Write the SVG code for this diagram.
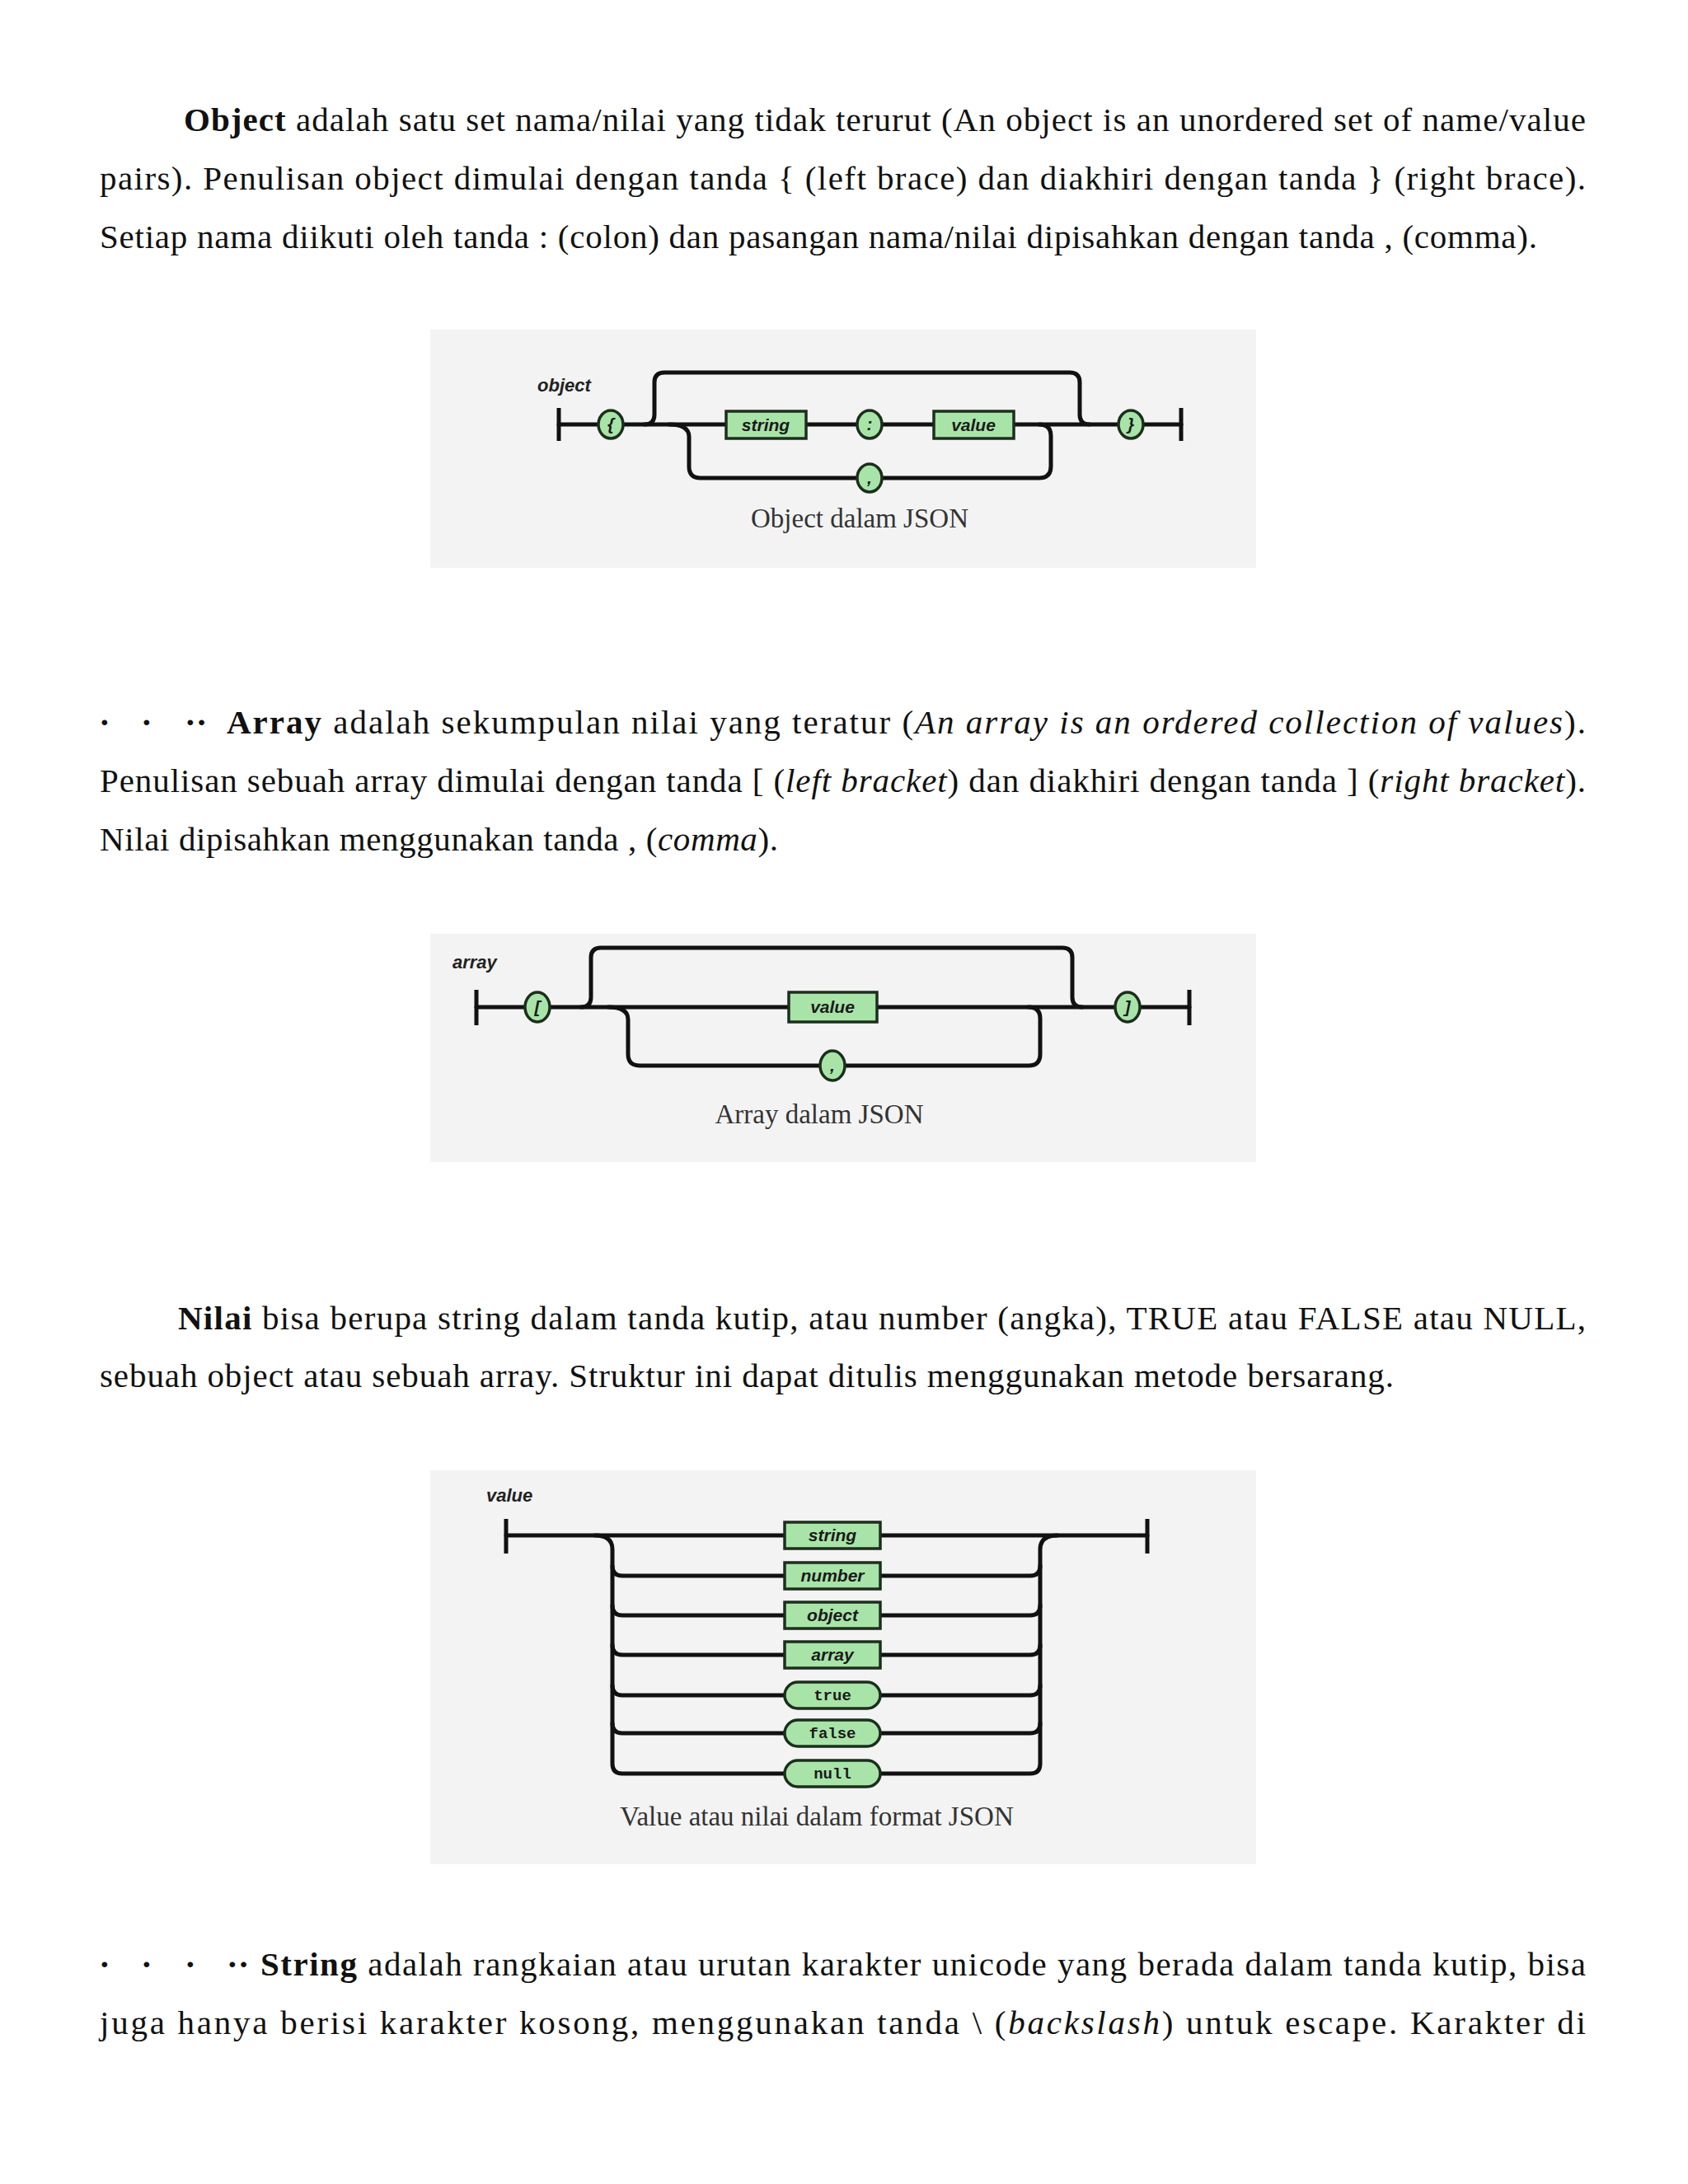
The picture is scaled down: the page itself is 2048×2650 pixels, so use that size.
<svg xmlns="http://www.w3.org/2000/svg" width="2048" height="2650" viewBox="0 0 2048 2650">
<style>
.p{font-family:"Liberation Serif",serif;font-size:41px;fill:#111}
.b{font-weight:bold}
.i{font-style:italic}
.d{font-weight:bold}
.panel{fill:#f3f3f3}
.ln{fill:none;stroke:#111;stroke-width:5;stroke-linecap:round;stroke-linejoin:round}
.bar{stroke:#111;stroke-width:5}
.nd{fill:#a8e4a8;stroke:#1c2e1c;stroke-width:3.5}
.lb{font-family:"Liberation Sans",sans-serif;font-weight:bold;font-style:italic;font-size:21px;fill:#1a1a1a;text-anchor:middle}
.ml{font-family:"Liberation Mono",monospace;font-weight:bold;font-size:19px;fill:#1a1a1a;text-anchor:middle}
.tt{font-family:"Liberation Sans",sans-serif;font-weight:bold;font-style:italic;font-size:22px;fill:#222}
.cap{font-family:"Liberation Serif",serif;font-size:33px;fill:#333;text-anchor:middle}
</style>
<rect width="2048" height="2650" fill="#fff"/>
<g id="text">
<text class="p" x="223" y="159" textLength="1701" lengthAdjust="spacing"><tspan class="b">Object</tspan> adalah satu set nama/nilai yang tidak terurut (An object is an unordered set of name/value</text>
<text class="p" x="121" y="230" textLength="1803" lengthAdjust="spacing">pairs). Penulisan object dimulai dengan tanda { (left brace) dan diakhiri dengan tanda } (right brace).</text>
<text class="p" x="121" y="301" textLength="1744" lengthAdjust="spacing">Setiap nama diikuti oleh tanda : (colon) dan pasangan nama/nilai dipisahkan dengan tanda , (comma).</text>
<text class="p d" x="120" y="890">·</text><text class="p d" x="171" y="890">·</text><text class="p d" x="224" y="890">··</text>
<text class="p" x="275" y="890" textLength="1649" lengthAdjust="spacing"><tspan class="b">Array</tspan> adalah sekumpulan nilai yang teratur (<tspan class="i">An array is an ordered collection of values</tspan>).</text>
<text class="p" x="121" y="961" textLength="1803" lengthAdjust="spacing">Penulisan sebuah array dimulai dengan tanda [ (<tspan class="i">left bracket</tspan>) dan diakhiri dengan tanda ] (<tspan class="i">right bracket</tspan>).</text>
<text class="p" x="121" y="1032" textLength="823" lengthAdjust="spacing">Nilai dipisahkan menggunakan tanda , (<tspan class="i">comma</tspan>).</text>
<text class="p" x="216" y="1613" textLength="1708" lengthAdjust="spacing"><tspan class="b">Nilai</tspan> bisa berupa string dalam tanda kutip, atau number (angka), TRUE atau FALSE atau NULL,</text>
<text class="p" x="121" y="1683" textLength="1570" lengthAdjust="spacing">sebuah object atau sebuah array. Struktur ini dapat ditulis menggunakan metode bersarang.</text>
<text class="p d" x="120" y="2397">·</text><text class="p d" x="171" y="2397">·</text><text class="p d" x="224" y="2397">·</text><text class="p d" x="275" y="2397">··</text>
<text class="p" x="316" y="2397" textLength="1608" lengthAdjust="spacing"><tspan class="b">String</tspan> adalah rangkaian atau urutan karakter unicode yang berada dalam tanda kutip, bisa</text>
<text class="p" x="121" y="2468" textLength="1803" lengthAdjust="spacing">juga hanya berisi karakter kosong, menggunakan tanda \ (<tspan class="i">backslash</tspan>) untuk escape. Karakter di</text>
</g>
<g id="object-diagram">
<rect class="panel" x="522" y="400" width="1002" height="289"/>
<text class="tt" x="652" y="475">object</text>
<g id="object-connectors">
<path class="ln" d="M678 515 H1433"/>
<path class="bar" d="M678 495 V535 M1433 495 V535"/>
<path class="ln" d="M782 515 Q794 515 794 503 V464 Q794 452 806 452 H1298 Q1310 452 1310 464 V503 Q1310 515 1322 515"/>
<path class="ln" d="M812 515 Q836 515 836 530 V566 Q836 580 850 580 H1261 Q1275 580 1275 566 V529 Q1275 515 1261 515"/>
</g>
<g id="obj-lbrace"><ellipse class="nd" cx="741" cy="515" rx="15" ry="17"/><text class="lb" x="741" y="522" font-size="17">{</text></g>
<g id="obj-string"><rect class="nd" x="881" y="499" width="97" height="33"/><text class="lb" x="929" y="523">string</text></g>
<g id="obj-colon"><ellipse class="nd" cx="1055" cy="515" rx="15" ry="17"/><text class="lb" x="1055" y="522" font-size="17">:</text></g>
<g id="obj-value"><rect class="nd" x="1133" y="499" width="97" height="33"/><text class="lb" x="1181" y="523">value</text></g>
<g id="obj-comma"><ellipse class="nd" cx="1055" cy="580" rx="15" ry="17"/><text class="lb" x="1055" y="587" font-size="17">,</text></g>
<g id="obj-rbrace"><ellipse class="nd" cx="1372" cy="515" rx="15" ry="17"/><text class="lb" x="1372" y="522" font-size="17">}</text></g>
<text class="cap" x="1043" y="640">Object dalam JSON</text>
</g>
<g id="array-diagram">
<rect class="panel" x="522" y="1133" width="1002" height="277"/>
<text class="tt" x="549" y="1175">array</text>
<g id="array-connectors">
<path class="ln" d="M578 1222 H1443"/>
<path class="bar" d="M578 1201 V1244 M1443 1201 V1244"/>
<path class="ln" d="M705 1222 Q717 1222 717 1210 V1162 Q717 1150 729 1150 H1289 Q1301 1150 1301 1162 V1210 Q1301 1222 1313 1222"/>
<path class="ln" d="M738 1222 Q762 1222 762 1237 V1279 Q762 1293 776 1293 H1248 Q1262 1293 1262 1279 V1236 Q1262 1222 1248 1222"/>
</g>
<g id="arr-lbracket"><ellipse class="nd" cx="652" cy="1222" rx="15" ry="18"/><text class="lb" x="652" y="1229" font-size="17">[</text></g>
<g id="arr-value"><rect class="nd" x="957" y="1204" width="107" height="36"/><text class="lb" x="1010" y="1229">value</text></g>
<g id="arr-comma"><ellipse class="nd" cx="1010" cy="1293" rx="15" ry="18"/><text class="lb" x="1010" y="1300" font-size="17">,</text></g>
<g id="arr-rbracket"><ellipse class="nd" cx="1368" cy="1222" rx="15" ry="18"/><text class="lb" x="1368" y="1229" font-size="17">]</text></g>
<text class="cap" x="994" y="1363" font-size="36">Array dalam JSON</text>
</g>
<g id="value-diagram">
<rect class="panel" x="522" y="1784" width="1002" height="478"/>
<text class="tt" x="590" y="1822" font-size="20">value</text>
<g id="value-connectors">
<path class="ln" d="M614 1863 H1392"/>
<path class="bar" d="M614 1843 V1885 M1392 1843 V1885"/>
<path class="ln" d="M722 1863 Q743 1863 743 1880 V2140 Q743 2152 755 2152 H1250 Q1262 2152 1262 2140 V1880 Q1262 1863 1283 1863"/>
<path class="ln" d="M743 1900 Q743 1912 755 1912 H1250 Q1262 1912 1262 1900"/>
<path class="ln" d="M743 1948 Q743 1960 755 1960 H1250 Q1262 1960 1262 1948"/>
<path class="ln" d="M743 1996 Q743 2008 755 2008 H1250 Q1262 2008 1262 1996"/>
<path class="ln" d="M743 2045 Q743 2057 755 2057 H1250 Q1262 2057 1262 2045"/>
<path class="ln" d="M743 2091 Q743 2103 755 2103 H1250 Q1262 2103 1262 2091"/>
</g>
<g id="v-string"><rect class="nd" x="952" y="1847" width="116" height="32"/><text class="lb" x="1010" y="1870">string</text></g>
<g id="v-number"><rect class="nd" x="952" y="1896" width="116" height="32"/><text class="lb" x="1010" y="1919">number</text></g>
<g id="v-object"><rect class="nd" x="952" y="1944" width="116" height="32"/><text class="lb" x="1010" y="1967">object</text></g>
<g id="v-array"><rect class="nd" x="952" y="1992" width="116" height="32"/><text class="lb" x="1010" y="2015">array</text></g>
<g id="v-true"><rect class="nd" x="952" y="2041" width="116" height="32" rx="16"/><text class="ml" x="1010" y="2063">true</text></g>
<g id="v-false"><rect class="nd" x="952" y="2087" width="116" height="32" rx="16"/><text class="ml" x="1010" y="2109">false</text></g>
<g id="v-null"><rect class="nd" x="952" y="2136" width="116" height="32" rx="16"/><text class="ml" x="1010" y="2158">null</text></g>
<text class="cap" x="991" y="2215">Value atau nilai dalam format JSON</text>
</g>
</svg>
